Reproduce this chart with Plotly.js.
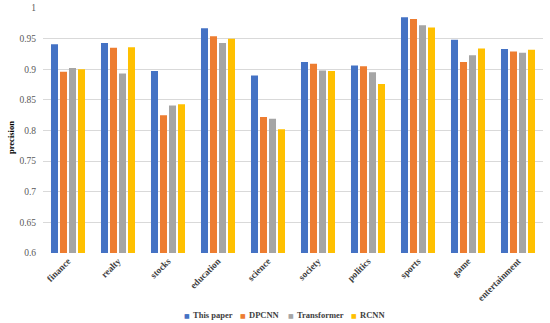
<!DOCTYPE html>
<html>
<head>
<meta charset="utf-8">
<script src="https://cdn.plot.ly/plotly-3.0.1.min.js"></script>
<style>html,body{margin:0;padding:0;background:#fff;}#chart{width:550px;height:323px;}</style>
</head>
<body>
<div id="chart"></div>
<script>
const categories = ["finance","realty","stocks","education","science","society","politics","sports","game","entertainment"];
const thisPaper   = [0.941,0.943,0.897,0.967,0.890,0.912,0.906,0.985,0.948,0.933];
const dpcnn       = [0.896,0.935,0.825,0.954,0.822,0.909,0.905,0.982,0.912,0.929];
const transformer = [0.902,0.893,0.841,0.943,0.819,0.898,0.895,0.972,0.923,0.927];
const rcnn        = [0.900,0.936,0.843,0.950,0.802,0.897,0.876,0.968,0.934,0.932];
const seriesNames = ["This paper","DPCNN","Transformer","RCNN"];
const colors = ["#4472C4","#ED7D31","#A5A5A5","#FFC000"];
const yTicks = [0.6,0.65,0.7,0.75,0.8,0.85,0.9,0.95,1];
const yTickText = ["0.6","0.65","0.7","0.75","0.8","0.85","0.9","0.95","1"];

const serif = "Liberation Serif, Times New Roman, serif";
const values = [thisPaper, dpcnn, transformer, rcnn];
const traces = values.map((v,i)=>({
  type:"bar", x:categories, y:v, name:seriesNames[i],
  marker:{color:colors[i]}, showlegend:false
}));

// custom compact legend (Excel-like small square markers)
const legendX = [187, 243, 291, 354]; // pixel positions of markers
const legendY = (253-315)/245;
const annotations = [];
seriesNames.forEach((n,i)=>{
  annotations.push({xref:"paper", yref:"paper", x:(legendX[i]-43)/500, y:legendY,
    text:"■", showarrow:false, xanchor:"center", yanchor:"middle",
    font:{family:"DejaVu Sans", size:6, color:colors[i]}});
  annotations.push({xref:"paper", yref:"paper", x:(legendX[i]+4-43)/500, y:legendY,
    text:n, showarrow:false, xanchor:"left", yanchor:"middle",
    font:{family:serif, size:8.5, color:"#404040", weight:"bold"}});
});
annotations.push({xref:"paper", yref:"paper", x:(11-43)/500, y:(253-138)/245,
  text:"precision", textangle:-90, showarrow:false, xanchor:"center", yanchor:"middle",
  font:{family:serif, size:8.5, color:"#000", weight:"bold"}});

const layout = {
  width:550, height:323,
  margin:{l:43,r:7,t:8,b:70},
  paper_bgcolor:"#fff", plot_bgcolor:"#fff",
  barmode:"group", bargap:0.28, bargroupgap:0.22,
  showlegend:false,
  annotations:annotations,
  xaxis:{tickangle:-45, tickfont:{family:serif, size:9.3, color:"#404040", weight:"bold"},
    showgrid:false, showline:false, ticks:"", automargin:false},
  yaxis:{range:[0.6,1], tickvals:yTicks, ticktext:yTickText,
    tickfont:{family:serif, size:9.5, color:"#595959"}, ticklabelstandoff:6,
    showgrid:true, gridcolor:"#D9D9D9", gridwidth:1, zeroline:false, showline:false, ticks:"",
    automargin:false}
};
Plotly.newPlot("chart", traces, layout, {displayModeBar:false, staticPlot:true});
</script>
</body>
</html>
